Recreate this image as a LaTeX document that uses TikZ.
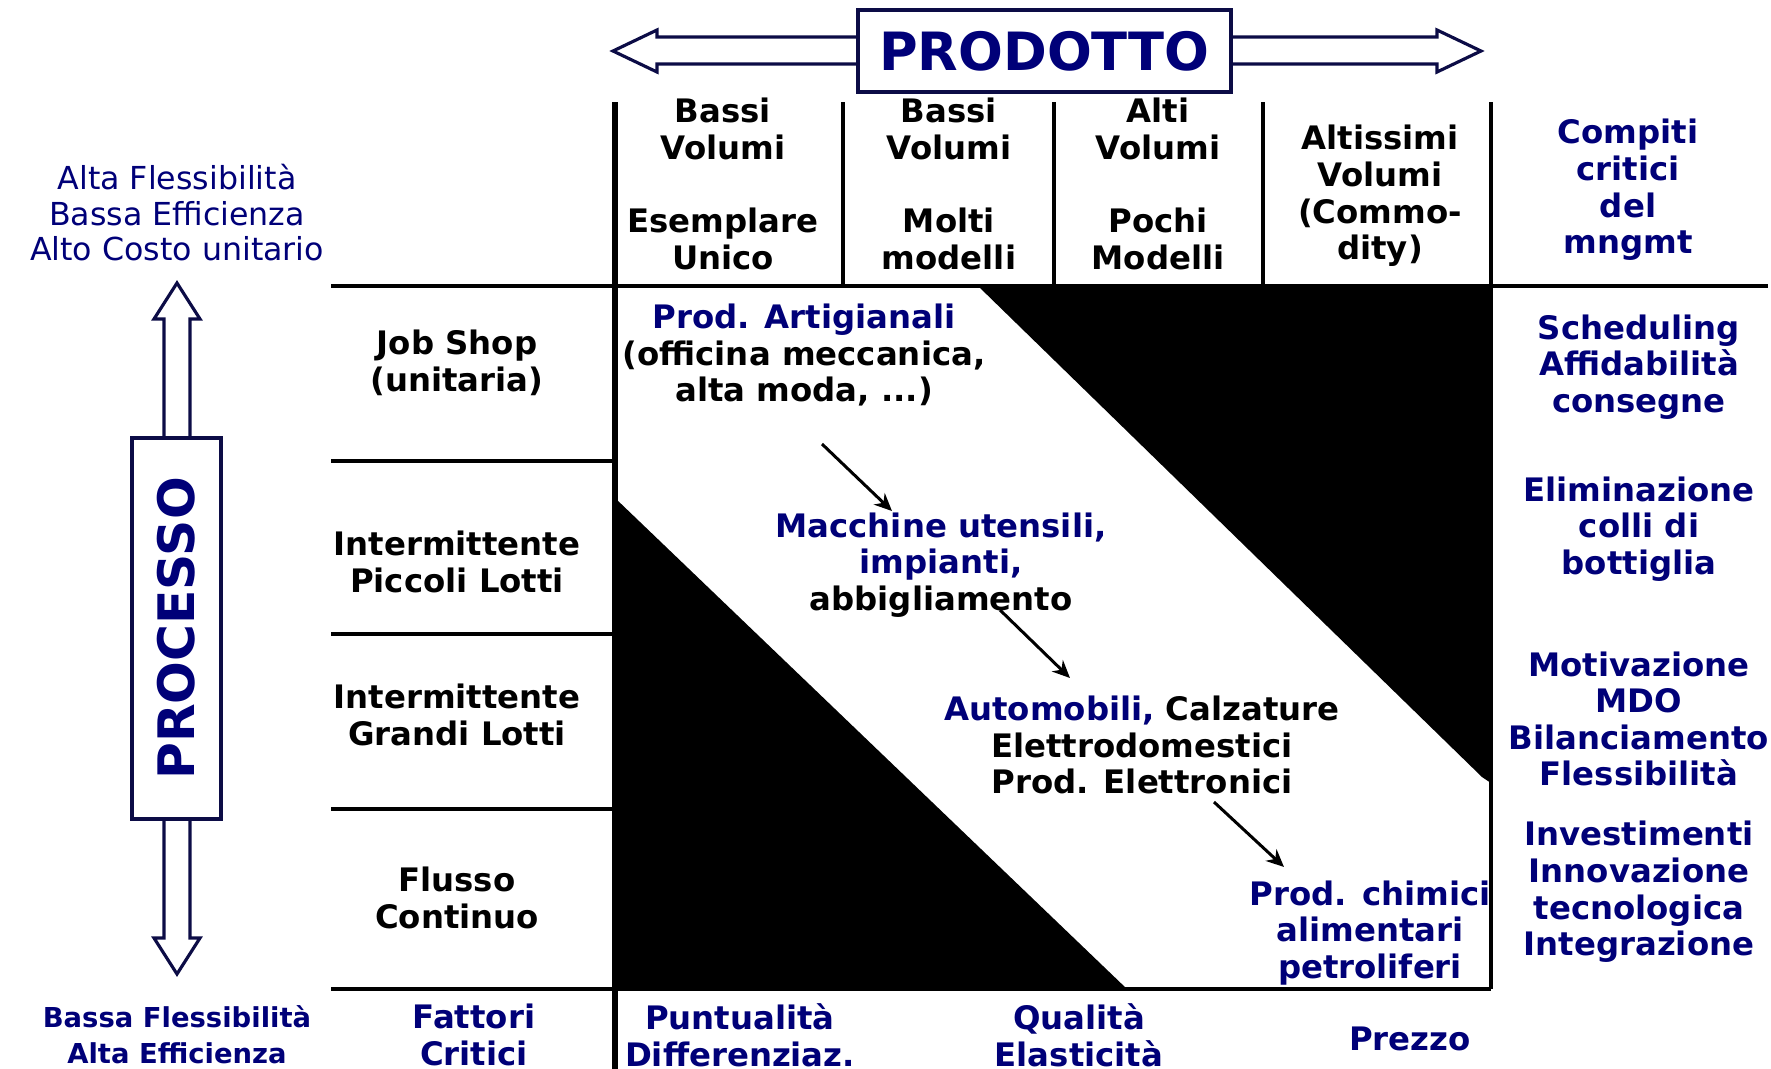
\documentclass[tikz,border=0pt]{standalone}
\usepackage{fontspec}
\setmainfont{DejaVu Sans}
\usetikzlibrary{arrows.meta}
\definecolor{navy}{RGB}{0,0,120}
\definecolor{edge}{RGB}{12,12,70}

\begin{document}
\begin{tikzpicture}[x=0.01cm,y=-0.01cm,
    txt/.style={align=center,inner sep=0pt,font=\fontsize{9.2}{10.4}\selectfont\bfseries},
    bluetxt/.style={txt,text=navy},
    grid/.style={line width=1.1pt},
    outl/.style={draw=edge,line width=0.9pt},
    flow/.style={line width=0.85pt,-{Stealth[length=5pt,width=4.5pt]}}]
    \useasboundingbox (0,0) rectangle (1771,1069);

    \fill (977,285) -- (1491,285) -- (1491,783) -- (1482,777) -- cycle;
    \fill (615,498) -- (1127,989) -- (615,989) -- cycle;

    \draw[grid] (843,102) -- (843,286) (1054,102) -- (1054,286) (1263,102) -- (1263,286);
    \draw[grid] (1491,102) -- (1491,989);
    \draw[grid] (331,286) -- (1768,286);
    \draw[grid] (331,461) -- (615,461) (331,634) -- (615,634) (331,809) -- (615,809) (331,989) -- (1491,989);
    \draw[line width=1.7pt] (615,102) -- (615,1069);

    \node[outl,line width=1pt,minimum width=3.73cm,minimum height=0.82cm,inner sep=0pt,
      font=\fontsize{15}{18}\selectfont\bfseries,text=navy] (prod) at (1044.5,51) {PRODOTTO};
    \draw[outl] (858,37) -- (657,37) -- (657,30) -- (613,51) -- (657,72) -- (657,64) -- (858,64);
    \draw[outl] (1231,37) -- (1437,37) -- (1437,30) -- (1481,51) -- (1437,72) -- (1437,64) -- (1231,64);

    \node[outl,line width=1pt,minimum width=3.81cm,minimum height=0.89cm,inner sep=0pt,rotate=90,
      font=\fontsize{14.3}{17}\selectfont\bfseries,text=navy] (proc) at (176.5,628.5) {PROCESSO};
    \draw[outl] (164,438) -- (164,319) -- (154,319) -- (177,283) -- (200,319) -- (190,319) -- (190,438);
    \draw[outl] (164,819) -- (164,938) -- (154,938) -- (177,974) -- (200,938) -- (190,938) -- (190,819);

    \node[bluetxt,font=\fontsize{9}{10.1}\selectfont] (flex) at (177,213) {Alta Flessibilità\\Bassa Efficienza\\Alto Costo unitario};
    \node[bluetxt,font=\fontsize{7.8}{10.2}\selectfont\bfseries] (effic) at (177,1035) {Bassa Flessibilità\\Alta Efficienza};

    \node[txt] (vol1) at (723,184) {Bassi\\Volumi\\[10.4pt]Esemplare\\Unico};
    \node[txt] (vol2) at (949,184) {Bassi\\Volumi\\[10.4pt]Molti\\modelli};
    \node[txt] (vol3) at (1158,184) {Alti\\Volumi\\[10.4pt]Pochi\\Modelli};
    \node[txt] (vol4) at (1380,196) {Altissimi\\Volumi\\(Commo-\\dity)};
    \node[bluetxt] (task) at (1628,190) {Compiti\\critici\\del\\mngmt};

    \node[txt] (job) at (457,363) {Job Shop\\(unitaria)};
    \node[txt] (small) at (457,562) {Intermittente\\Piccoli Lotti};
    \node[txt] (large) at (457,715) {Intermittente\\Grandi Lotti};
    \node[txt] (cont) at (457,898) {Flusso\\Continuo};
    \node[bluetxt] (fact) at (474,1035) {Fattori\\Critici};

    \node[txt] (art) at (804,355) {\textcolor{navy}{Prod. Artigianali}\\(officina meccanica,\\alta moda, ...)};
    \node[txt] (mach) at (941,565) {\textcolor{navy}{Macchine utensili,}\\\textcolor{navy}{impianti,}\\abbigliamento};
    \node[txt] (auto) at (1142,745) {\textcolor{navy}{Automobili,} Calzature\\Elettrodomestici\\Prod. Elettronici};
    \node[bluetxt] (chem) at (1370,933) {Prod. chimici\\alimentari\\petroliferi};

    \coordinate (a1) at (822,444); \coordinate (b1) at (892,511);
    \coordinate (a2) at (1000,610); \coordinate (b2) at (1070,678);
    \coordinate (a3) at (1214,802); \coordinate (b3) at (1284,867);
    \draw[flow] (a1) -- (b1);
    \draw[flow] (a2) -- (b2);
    \draw[flow] (a3) -- (b3);

    \node[bluetxt] (punt) at (740,1035) {Puntualità\\Differenziaz.};
    \node[bluetxt] (qual) at (1079,1035) {Qualità\\Elasticità};
    \node[bluetxt] (price) at (1410,1039) {Prezzo};

    \node[bluetxt] (sched) at (1639,367) {Scheduling\\Affidabilità\\consegne};
    \node[bluetxt] (elim) at (1639,529) {Eliminazione\\colli di\\bottiglia};
    \node[bluetxt] (motiv) at (1639,719) {Motivazione\\MDO\\Bilanciamento\\Flessibilità};
    \node[bluetxt] (invest) at (1639,892) {Investimenti\\Innovazione\\tecnologica\\Integrazione};
\end{tikzpicture}
\end{document}
